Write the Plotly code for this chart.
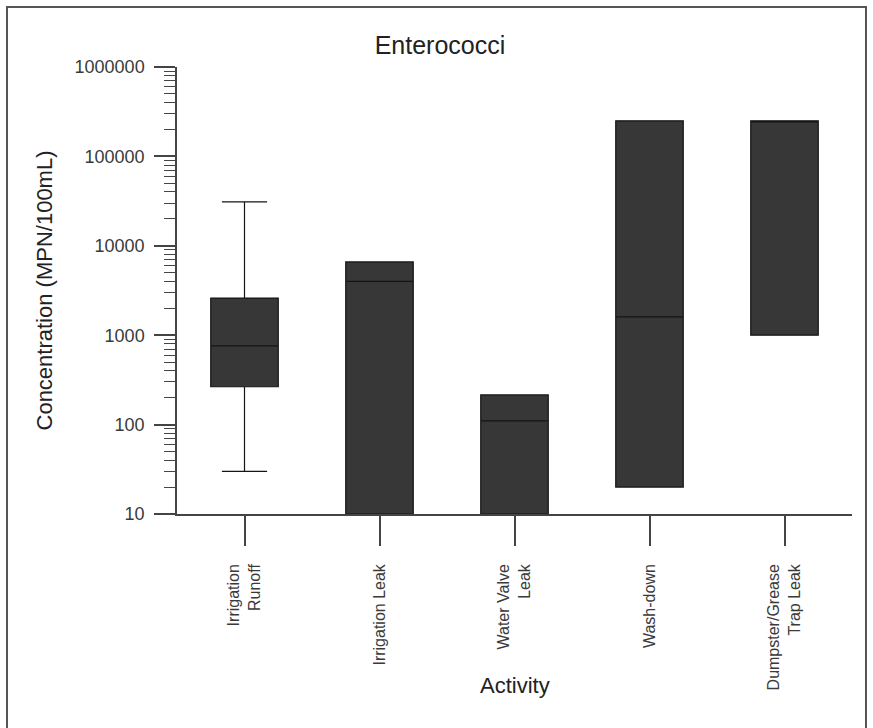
import plotly.graph_objects as go

categories = ["Irrigation<br>Runoff", "Irrigation Leak", "Water Valve<br>Leak", "Wash-down", "Dumpster/Grease<br>Trap Leak"]
lower_whisker = [30, 10, 10, 20, 1000]
q1_vals = [265, 10, 10, 20, 1000]
median_vals = [760, 4000, 110, 1600, 250000]
q3_vals = [2600, 6600, 215, 250000, 250000]
upper_whisker = [31000, 6600, 215, 250000, 250000]

y_tickvals = [10, 100, 1000, 10000, 100000, 1000000]
y_ticktext = ["10", "100", "1000", "10000", "100000", "1000000"]

FONT = "Liberation Sans, Arial, sans-serif"
TXT = "#3a3a3a"

fig = go.Figure()
fig.add_trace(go.Box(
    x=categories,
    q1=q1_vals, median=median_vals, q3=q3_vals,
    lowerfence=lower_whisker, upperfence=upper_whisker,
    fillcolor="#373737",
    line=dict(color="#151515", width=1.2),
    width=0.5,
    whiskerwidth=0.67,
    boxpoints=False,
    showlegend=False,
    hoverinfo="skip",
))

fig.update_layout(
    width=873, height=728,
    margin=dict(l=177, r=21, t=67, b=214),
    paper_bgcolor="white", plot_bgcolor="white",
    font=dict(family=FONT, color=TXT, size=16),
    title=dict(text="Enterococci", x=(440 - 177) / 675, xref="paper", xanchor="center",
               y=1 - 45 / 728, yanchor="middle", font=dict(size=25, color="#222222")),
    xaxis=dict(
        type="category",
        range=[-0.5, 4.5],
        showline=True, linecolor="#444444", linewidth=1.5,
        ticks="outside", ticklen=30, tickcolor="#444444", tickwidth=1.5,
        tickangle=-90,
        ticklabelstandoff=12,
        tickfont=dict(size=16, color=TXT),
        showgrid=False, zeroline=False,
        automargin=False,
    ),
    yaxis=dict(
        type="log",
        range=[1, 6],
        showline=True, linecolor="#444444", linewidth=1.5,
        ticks="outside", ticklen=21, tickcolor="#444444", tickwidth=1.5,
        tickvals=y_tickvals, ticktext=y_ticktext,
        ticklabelstandoff=6,
        tickfont=dict(size=18, color=TXT),
        minor=dict(ticks="outside", ticklen=11, tickcolor="#444444", tickwidth=1.2,
                   dtick="D1", showgrid=False),
        showgrid=False, zeroline=False,
        title=dict(text="Concentration (MPN/100mL)", font=dict(size=22, color="#222222"), standoff=16),
        automargin=False,
    ),
)

# x-axis title as annotation (sits alongside the long tick labels)
fig.add_annotation(text="Activity", xref="paper", yref="paper",
                   x=0.5, y=(514 - 685) / 447, xanchor="center", yanchor="middle",
                   showarrow=False, font=dict(size=22, color="#222222"))

# outer frame
fig.add_shape(type="rect", xref="paper", yref="paper",
              x0=(7 - 177) / 675, x1=(866 - 177) / 675,
              y0=(514 - 740) / 447, y1=(514 - 7) / 447,
              line=dict(color="#555555", width=2), layer="below")

fig.write_html("out.html")
